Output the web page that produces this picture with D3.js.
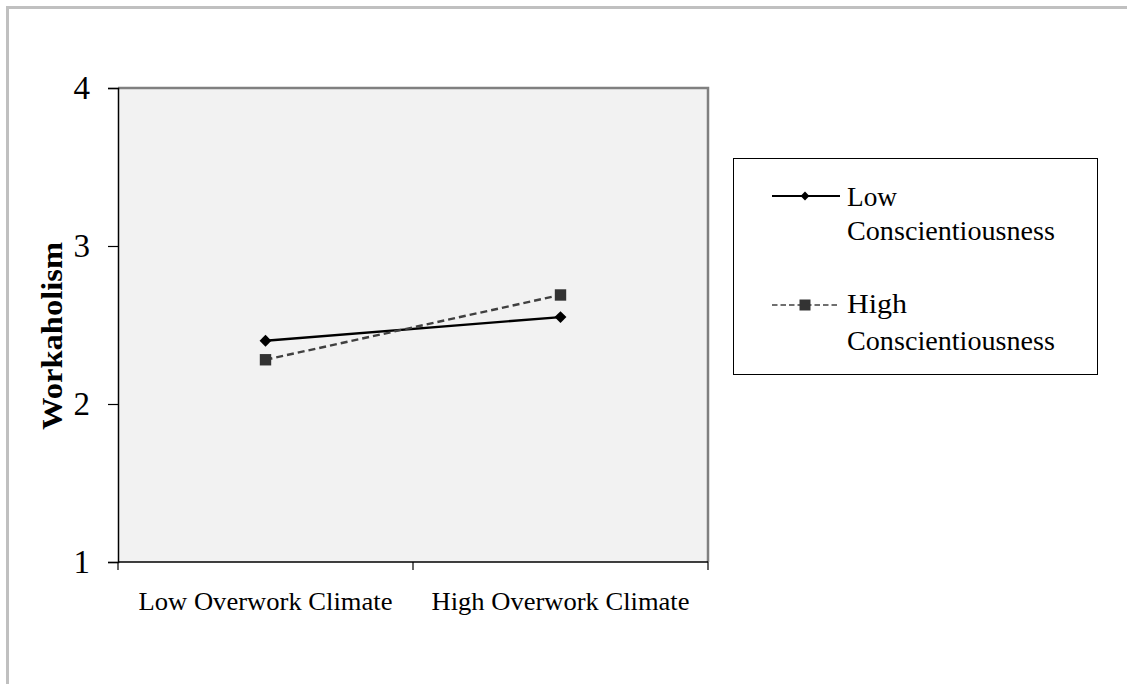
<!DOCTYPE html>
<html>
<head>
<meta charset="utf-8">
<script src="https://cdn.jsdelivr.net/npm/d3@7"></script>
<style>
  body { margin: 0; background: #fff; }
  svg text { font-family: "Liberation Serif", "Times New Roman", serif; fill: #000; }
</style>
</head>
<body>
<svg id="chart" width="1127" height="684"></svg>
<script>
// chart data
const categories = ["Low Overwork Climate", "High Overwork Climate"];
const lowConsc = [2.40, 2.55];
const highConsc = [2.28, 2.69];
const yTicks = [1, 2, 3, 4];
const seriesNames = [["Low", "Conscientiousness"], ["High", "Conscientiousness"]];

const svg = d3.select("#chart");

// outer frame (only top and left edge visible)
svg.append("path")
  .attr("d", "M7.5,684 V7.5 H1127")
  .attr("fill", "none")
  .attr("stroke", "#c0c0c0")
  .attr("stroke-width", 3);

const plot = { left: 118, top: 88, right: 708, bottom: 562 };

const x = d3.scalePoint()
  .domain(categories)
  .range([plot.left, plot.right])
  .padding(0.5);

const y = d3.scaleLinear()
  .domain([1, 4])
  .range([plot.bottom, plot.top]);

// plot background
svg.append("rect")
  .attr("x", plot.left)
  .attr("y", plot.top)
  .attr("width", plot.right - plot.left)
  .attr("height", plot.bottom - plot.top)
  .attr("fill", "#f2f2f2");

// gray top/right border
svg.append("path")
  .attr("d", `M${plot.left},${plot.top} H${plot.right} V${plot.bottom}`)
  .attr("fill", "none")
  .attr("stroke", "#808080")
  .attr("stroke-width", 2.5);

// y axis
const yAxis = svg.append("g")
  .attr("transform", `translate(${plot.left},0)`)
  .call(d3.axisLeft(y).tickValues(yTicks).tickFormat(d3.format("d")).tickSize(10).tickPadding(18));
yAxis.select(".domain").attr("stroke", "#000").attr("stroke-width", 1.5);
yAxis.selectAll(".tick line").attr("stroke", "#000").attr("stroke-width", 1.2);
yAxis.selectAll(".tick text")
  .style("font-size", "33px")
  .style("font-family", "Liberation Serif, serif")
  .attr("fill", "#000");

// x axis: ticks at the band edges
const xAxis = svg.append("g")
  .attr("transform", `translate(0,${plot.bottom})`);
xAxis.append("line")
  .attr("x1", plot.left).attr("x2", plot.right)
  .attr("stroke", "#000").attr("stroke-width", 1.5);
const step = x.step();
const edges = [plot.left, plot.left + step, plot.left + 2 * step];
xAxis.selectAll("line.tk")
  .data(edges)
  .join("line")
  .attr("class", "tk")
  .attr("x1", d => d).attr("x2", d => d)
  .attr("y1", 0).attr("y2", 8)
  .attr("stroke", "#000").attr("stroke-width", 1.2);
xAxis.selectAll("text")
  .data(categories)
  .join("text")
  .attr("x", d => x(d))
  .attr("y", 48)
  .attr("text-anchor", "middle")
  .attr("textLength", (d, i) => i === 0 ? 254 : 258)
  .attr("lengthAdjust", "spacingAndGlyphs")
  .style("font-size", "26px")
  .text(d => d);

// y axis title
svg.append("text")
  .attr("transform", `translate(62,336) rotate(-90)`)
  .attr("text-anchor", "middle")
  .attr("textLength", 188)
  .attr("lengthAdjust", "spacingAndGlyphs")
  .style("font-size", "29px")
  .style("font-weight", "bold")
  .text("Workaholism");

// lines
const line = d3.line()
  .x((d, i) => x(categories[i]))
  .y(d => y(d));

svg.append("path")
  .datum(lowConsc)
  .attr("d", line)
  .attr("fill", "none")
  .attr("stroke", "#000")
  .attr("stroke-width", 2.4);

svg.append("path")
  .datum(highConsc)
  .attr("d", line)
  .attr("fill", "none")
  .attr("stroke", "#404040")
  .attr("stroke-width", 2.4)
  .attr("stroke-dasharray", "7,4");

const diamond = d3.symbol().type(d3.symbolDiamond2).size(90);
const square = d3.symbol().type(d3.symbolSquare).size(130);

svg.selectAll("path.lowpt")
  .data(lowConsc)
  .join("path")
  .attr("class", "lowpt")
  .attr("d", diamond)
  .attr("transform", (d, i) => `translate(${x(categories[i])},${y(d)})`)
  .attr("fill", "#000");

svg.selectAll("path.highpt")
  .data(highConsc)
  .join("path")
  .attr("class", "highpt")
  .attr("d", square)
  .attr("transform", (d, i) => `translate(${x(categories[i])},${y(d)})`)
  .attr("fill", "#333");

// legend
const legend = svg.append("g");
legend.append("rect")
  .attr("x", 733.5).attr("y", 158.5)
  .attr("width", 364).attr("height", 216)
  .attr("fill", "#fff")
  .attr("stroke", "#000")
  .attr("stroke-width", 1);

const legLineY = [196, 305];
const legTextY = [[206, 240], [313, 350]];
const legFirstLen = [50, 60];

const legendItems = legend.selectAll("g.item")
  .data(seriesNames)
  .join("g")
  .attr("class", "item");

legendItems.append("line")
  .attr("x1", 772).attr("x2", 840)
  .attr("y1", (d, i) => legLineY[i]).attr("y2", (d, i) => legLineY[i])
  .attr("stroke", (d, i) => i === 0 ? "#000" : "#404040")
  .attr("stroke-width", (d, i) => i === 0 ? 2 : 1.5)
  .attr("stroke-dasharray", (d, i) => i === 0 ? null : "5.5,3");

legendItems.append("path")
  .attr("d", (d, i) => i === 0 ? d3.symbol().type(d3.symbolDiamond2).size(50)() : d3.symbol().type(d3.symbolSquare).size(121)())
  .attr("transform", (d, i) => `translate(805,${legLineY[i]})`)
  .attr("fill", (d, i) => i === 0 ? "#000" : "#333");

legendItems.append("text")
  .attr("x", 847).attr("y", (d, i) => legTextY[i][0])
  .attr("textLength", (d, i) => legFirstLen[i])
  .attr("lengthAdjust", "spacingAndGlyphs")
  .style("font-size", "28px")
  .text(d => d[0]);

legendItems.append("text")
  .attr("x", 847).attr("y", (d, i) => legTextY[i][1])
  .attr("textLength", 208)
  .attr("lengthAdjust", "spacingAndGlyphs")
  .style("font-size", "28px")
  .text(d => d[1]);
</script>
</body>
</html>
